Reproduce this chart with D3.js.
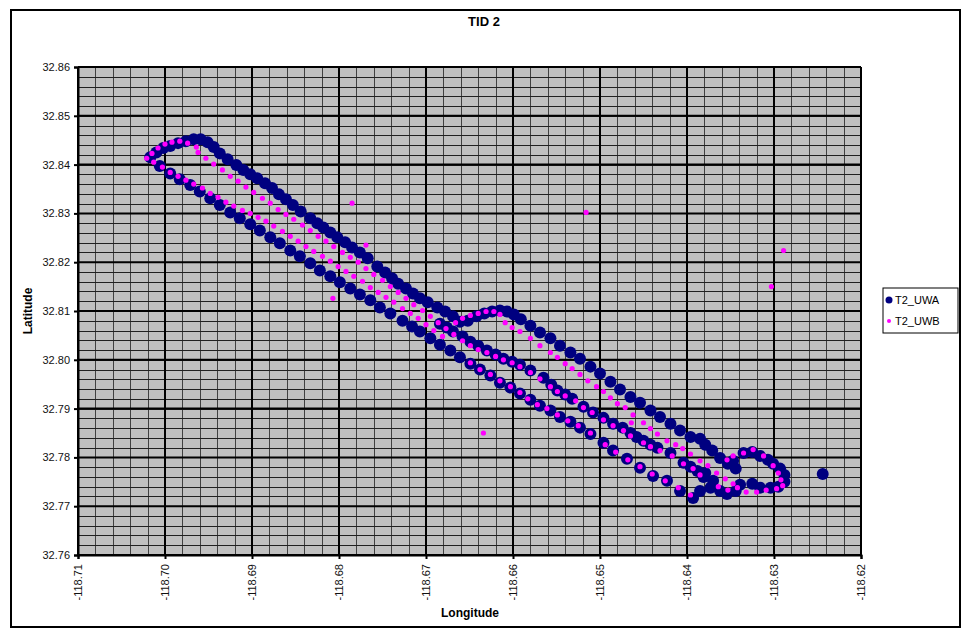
<!DOCTYPE html>
<html><head><meta charset="utf-8">
<script src="https://cdn.jsdelivr.net/npm/d3@7"></script>
<style>body{margin:0;background:#fff}svg{display:block}text{font-family:Arial,"Liberation Sans",sans-serif}</style>
</head><body><svg id="c" width="968" height="629"></svg>
<script>
const chartTitle = "TID 2";
const xTitle = "Longitude";
const yTitle = "Latitude";
const seriesNames = ["T2_UWA", "T2_UWB"];
const seriesColors = ["#000080", "#ff00ff"];
const lonTicks = [-118.71,-118.70,-118.69,-118.68,-118.67,-118.66,-118.65,-118.64,-118.63,-118.62];
const latTicks = [32.76,32.77,32.78,32.79,32.80,32.81,32.82,32.83,32.84,32.85,32.86];

// T2_UWA points [longitude, latitude]
const uwaPoints = [
[-118.7017,32.8415],[-118.7010,32.8425],[-118.7002,32.8434],[-118.6994,32.8438],[-118.6985,32.8444],[-118.6976,32.8448],[-118.6967,32.8452],[-118.6959,32.8452],[-118.6951,32.8446],[-118.6944,32.8436],
[-118.6937,32.8423],[-118.6928,32.8411],[-118.6918,32.8399],[-118.6910,32.8389],[-118.6902,32.8380],[-118.6894,32.8372],[-118.6885,32.8362],[-118.6877,32.8352],[-118.6869,32.8339],[-118.6861,32.8329],
[-118.6853,32.8317],[-118.6844,32.8304],[-118.6833,32.8290],[-118.6825,32.8280],[-118.6818,32.8271],[-118.6810,32.8261],[-118.6802,32.8251],[-118.6793,32.8241],[-118.6785,32.8230],[-118.6776,32.8220],
[-118.6767,32.8208],[-118.6756,32.8191],[-118.6747,32.8179],[-118.6739,32.8167],[-118.6732,32.8156],[-118.6723,32.8146],[-118.6715,32.8136],[-118.6707,32.8126],[-118.6698,32.8118],[-118.6687,32.8107],
[-118.6678,32.8099],[-118.6669,32.8089],[-118.6661,32.8078],
[-118.6652,32.8080],[-118.6642,32.8089],[-118.6633,32.8095],[-118.6624,32.8099],[-118.6615,32.8101],[-118.6607,32.8099],
[-118.6599,32.8093],[-118.6591,32.8083],[-118.6580,32.8070],[-118.6569,32.8056],[-118.6557,32.8044],[-118.6546,32.8029],[-118.6534,32.8015],[-118.6523,32.8002],[-118.6511,32.7986],[-118.6500,32.7972],
[-118.6488,32.7955],[-118.6477,32.7939],[-118.6465,32.7924],[-118.6454,32.7912],[-118.6442,32.7896],[-118.6431,32.7883],[-118.6419,32.7869],[-118.6408,32.7855],[-118.6396,32.7842],[-118.6385,32.7838],
[-118.6379,32.7826],[-118.6371,32.7814],[-118.6362,32.7799],[-118.6353,32.7787],[-118.6344,32.7777],
[-118.6684,32.8074],[-118.6676,32.8066],[-118.6669,32.8058],[-118.6658,32.8048],[-118.6649,32.8037],[-118.6640,32.8029],[-118.6630,32.8019],[-118.6620,32.8011],[-118.6611,32.8002],[-118.6601,32.7996],
[-118.6592,32.7990],[-118.6580,32.7978],[-118.6565,32.7963],[-118.6556,32.7949],[-118.6549,32.7937],[-118.6540,32.7929],[-118.6532,32.7920],[-118.6519,32.7904],[-118.6508,32.7892],[-118.6496,32.7881],
[-118.6485,32.7869],[-118.6474,32.7861],[-118.6465,32.7850],[-118.6458,32.7842],[-118.6450,32.7834],[-118.6442,32.7826],[-118.6434,32.7820],[-118.6419,32.7809],[-118.6404,32.7789],[-118.6396,32.7781],
[-118.6388,32.7772],[-118.6381,32.7760],
[-118.7006,32.8397],[-118.6994,32.8382],[-118.6983,32.8370],[-118.6971,32.8358],[-118.6960,32.8345],[-118.6948,32.8331],[-118.6937,32.8317],[-118.6925,32.8302],[-118.6914,32.8290],[-118.6902,32.8278],
[-118.6891,32.8265],[-118.6879,32.8251],[-118.6868,32.8239],[-118.6856,32.8224],[-118.6845,32.8212],[-118.6833,32.8198],[-118.6822,32.8183],[-118.6810,32.8171],[-118.6799,32.8159],[-118.6787,32.8146],
[-118.6776,32.8134],[-118.6764,32.8122],[-118.6753,32.8107],[-118.6741,32.8095],[-118.6727,32.8080],[-118.6716,32.8068],[-118.6707,32.8058],[-118.6695,32.8044],[-118.6684,32.8031],[-118.6672,32.8019],
[-118.6661,32.8005],[-118.6649,32.7992],[-118.6638,32.7980],[-118.6626,32.7968],[-118.6615,32.7953],[-118.6603,32.7943],[-118.6592,32.7931],[-118.6580,32.7918],[-118.6569,32.7906],[-118.6557,32.7896],
[-118.6546,32.7883],[-118.6534,32.7873],[-118.6523,32.7861],[-118.6511,32.7848],[-118.6496,32.7830],[-118.6485,32.7814],[-118.6469,32.7797],[-118.6454,32.7779],[-118.6439,32.7762],[-118.6423,32.7752],
[-118.6408,32.7731],[-118.6393,32.7717],
[-118.6385,32.7731],[-118.6373,32.7738],[-118.6362,32.7731],[-118.6354,32.7725],[-118.6344,32.7731],[-118.6339,32.7744],[-118.6347,32.7793],[-118.6335,32.7809],[-118.6325,32.7811],[-118.6316,32.7803],
[-118.6307,32.7795],[-118.6301,32.7787],[-118.6293,32.7777],[-118.6288,32.7764],[-118.6288,32.7750],[-118.6295,32.7740],[-118.6304,32.7738],[-118.6316,32.7738],[-118.6325,32.7746],[-118.6370,32.7752],
[-118.6379,32.7768],
[-118.6244,32.7766]
];

// T2_UWB points [longitude, latitude]
const uwbPoints = [
[-118.7021,32.8413],[-118.7015,32.8423],[-118.7008,32.8434],[-118.7000,32.8442],[-118.6992,32.8446],[-118.6983,32.8448],[-118.6974,32.8444],[-118.6964,32.8436],
[-118.6962,32.8425],[-118.6953,32.8413],[-118.6944,32.8401],[-118.6934,32.8389],[-118.6925,32.8376],[-118.6916,32.8366],[-118.6907,32.8354],[-118.6898,32.8343],[-118.6888,32.8331],[-118.6879,32.8321],
[-118.6870,32.8308],[-118.6861,32.8298],[-118.6852,32.8288],[-118.6842,32.8276],[-118.6833,32.8265],[-118.6824,32.8253],[-118.6815,32.8243],[-118.6806,32.8232],[-118.6796,32.8220],[-118.6787,32.8210],
[-118.6778,32.8200],[-118.6769,32.8187],[-118.6760,32.8175],[-118.6750,32.8163],[-118.6741,32.8150],[-118.6732,32.8138],[-118.6723,32.8126],[-118.6714,32.8113],[-118.6704,32.8101],[-118.6695,32.8089],
[-118.6686,32.8076],[-118.6677,32.8064],[-118.6668,32.8052],
[-118.7013,32.8405],[-118.7003,32.8395],[-118.6994,32.8384],[-118.6985,32.8376],[-118.6976,32.8368],[-118.6967,32.8360],[-118.6957,32.8352],[-118.6948,32.8341],[-118.6939,32.8333],[-118.6930,32.8323],
[-118.6921,32.8315],[-118.6911,32.8306],[-118.6902,32.8300],[-118.6893,32.8292],[-118.6884,32.8284],[-118.6875,32.8274],[-118.6865,32.8263],[-118.6856,32.8253],[-118.6847,32.8243],[-118.6838,32.8232],
[-118.6829,32.8222],[-118.6819,32.8212],[-118.6810,32.8202],[-118.6801,32.8191],[-118.6792,32.8181],[-118.6783,32.8171],[-118.6773,32.8161],[-118.6764,32.8148],[-118.6755,32.8138],[-118.6746,32.8128],
[-118.6737,32.8118],[-118.6727,32.8105],[-118.6718,32.8095],[-118.6709,32.8085],[-118.6700,32.8072],[-118.6691,32.8060],[-118.6681,32.8048],
[-118.6666,32.8076],[-118.6658,32.8085],[-118.6649,32.8091],[-118.6640,32.8095],[-118.6631,32.8099],[-118.6622,32.8099],[-118.6615,32.8093],
[-118.6609,32.8076],[-118.6601,32.8066],[-118.6592,32.8058],[-118.6580,32.8044],[-118.6569,32.8029],[-118.6557,32.8015],[-118.6549,32.8005],[-118.6540,32.7992],[-118.6532,32.7982],[-118.6523,32.7970],
[-118.6514,32.7957],[-118.6504,32.7945],[-118.6496,32.7935],[-118.6488,32.7922],[-118.6480,32.7910],[-118.6471,32.7902],[-118.6462,32.7887],[-118.6450,32.7871],[-118.6442,32.7859],[-118.6434,32.7848],
[-118.6423,32.7834],[-118.6413,32.7826],[-118.6405,32.7818],[-118.6396,32.7807],[-118.6385,32.7793],[-118.6376,32.7783],[-118.6366,32.7768],[-118.6356,32.7756],[-118.6347,32.7746],
[-118.6658,32.8039],[-118.6649,32.8029],[-118.6640,32.8021],[-118.6630,32.8015],[-118.6620,32.8007],[-118.6611,32.8000],[-118.6601,32.7994],[-118.6592,32.7986],[-118.6580,32.7974],[-118.6569,32.7961],
[-118.6557,32.7945],[-118.6549,32.7935],[-118.6540,32.7926],[-118.6528,32.7916],[-118.6519,32.7902],[-118.6509,32.7892],[-118.6496,32.7877],[-118.6485,32.7865],[-118.6473,32.7855],[-118.6465,32.7844],
[-118.6450,32.7830],[-118.6442,32.7822],[-118.6431,32.7814],[-118.6417,32.7803],[-118.6404,32.7787],[-118.6393,32.7777],[-118.6385,32.7764],
[-118.6649,32.7994],[-118.6638,32.7980],[-118.6626,32.7970],[-118.6615,32.7957],[-118.6603,32.7945],[-118.6592,32.7933],[-118.6583,32.7920],[-118.6572,32.7908],[-118.6561,32.7900],[-118.6549,32.7887],
[-118.6537,32.7875],[-118.6525,32.7865],[-118.6511,32.7850],[-118.6494,32.7826],[-118.6482,32.7811],[-118.6468,32.7795],[-118.6454,32.7781],[-118.6440,32.7766],[-118.6425,32.7752],[-118.6410,32.7738],
[-118.6396,32.7723],
[-118.6354,32.7795],[-118.6347,32.7803],[-118.6335,32.7809],[-118.6324,32.7816],[-118.6312,32.7803],[-118.6301,32.7783],[-118.6295,32.7768],[-118.6292,32.7754],[-118.6290,32.7742],[-118.6297,32.7736],
[-118.6309,32.7733],[-118.6320,32.7729],[-118.6332,32.7729],[-118.6342,32.7738],[-118.6353,32.7733],[-118.6364,32.7740],
[-118.6785,32.8321],[-118.6769,32.8235],[-118.6807,32.8126],[-118.6516,32.8302],[-118.6464,32.7871],[-118.6634,32.7850],[-118.6303,32.8150],[-118.6289,32.8224]
];

const svg = d3.select("#c");
const plot = {left: 78, right: 861, top: 67, bottom: 555};
const fmt2 = d3.formatLocale({decimal: ".", thousands: ",", grouping: [3], currency: ["", ""], minus: "-"}).format(".2f");

// outer chart frame
svg.append("rect").attr("x", 11).attr("y", 10).attr("width", 949).attr("height", 617)
  .attr("fill", "#fff").attr("stroke", "#000").attr("stroke-width", 2);

const x = d3.scaleLinear().domain([lonTicks[0], lonTicks[lonTicks.length-1]]).range([plot.left, plot.right]);
const y = d3.scaleLinear().domain([latTicks[0], latTicks[latTicks.length-1]]).range([plot.bottom, plot.top]);

// plot area
svg.append("rect").attr("x", plot.left).attr("y", plot.top)
  .attr("width", plot.right - plot.left).attr("height", plot.bottom - plot.top)
  .attr("fill", "#c0c0c0");

const g = svg.append("g");
// minor gridlines
g.selectAll(".mvx").data(x.ticks(45)).join("line")
  .attr("x1", d => Math.round(x(d)) + 0.5).attr("x2", d => Math.round(x(d)) + 0.5)
  .attr("y1", plot.top).attr("y2", plot.bottom)
  .attr("stroke", "#404040").attr("stroke-width", 1);
g.selectAll(".mhy").data(y.ticks(50)).join("line")
  .attr("y1", d => Math.round(y(d)) + 0.5).attr("y2", d => Math.round(y(d)) + 0.5)
  .attr("x1", plot.left).attr("x2", plot.right)
  .attr("stroke", "#202020").attr("stroke-width", 1);
// major gridlines
g.selectAll(".Mx").data(lonTicks).join("line")
  .attr("x1", d => x(d)).attr("x2", d => x(d))
  .attr("y1", plot.top).attr("y2", plot.bottom)
  .attr("stroke", "#000").attr("stroke-width", 2);
g.selectAll(".My").data(latTicks).join("line")
  .attr("y1", d => y(d)).attr("y2", d => y(d))
  .attr("x1", plot.left).attr("x2", plot.right)
  .attr("stroke", "#000").attr("stroke-width", 2);

// axes
const xAxis = d3.axisBottom(x).tickValues(lonTicks).tickFormat(fmt2).tickSize(4).tickPadding(3);
const xg = svg.append("g").attr("transform", `translate(0,${plot.bottom})`).call(xAxis);
xg.select(".domain").attr("stroke", "#000").attr("stroke-width", 2);
xg.selectAll(".tick line").attr("stroke", "#000").attr("stroke-width", 2);
xg.selectAll(".tick text")
  .attr("transform", "rotate(-90)").attr("x", -9).attr("y", 0).attr("dy", "0.35em")
  .attr("text-anchor", "end").attr("font-size", 11).attr("fill", "#111")
  .style("font-family", "Arial, 'Liberation Sans', sans-serif");

const yAxis = d3.axisLeft(y).tickValues(latTicks).tickFormat(fmt2).tickSize(4).tickPadding(4);
const yg = svg.append("g").attr("transform", `translate(${plot.left},0)`).call(yAxis);
yg.select(".domain").attr("stroke", "#000").attr("stroke-width", 2);
yg.selectAll(".tick line").attr("stroke", "#000").attr("stroke-width", 2);
yg.selectAll(".tick text").attr("font-size", 11).attr("fill", "#111")
  .style("font-family", "Arial, 'Liberation Sans', sans-serif");

// series
const seriesData = [uwaPoints, uwbPoints];
const radii = [6, 2.6];
seriesData.forEach((pts, i) => {
  svg.append("g").selectAll("circle").data(pts).join("circle")
    .attr("cx", d => x(d[0])).attr("cy", d => y(d[1]))
    .attr("r", radii[i]).attr("fill", seriesColors[i]);
});

// titles
svg.append("text").attr("x", 484).attr("y", 26).attr("text-anchor", "middle")
  .attr("font-size", 13).attr("font-weight", "bold").text(chartTitle);
svg.append("text").attr("x", 470).attr("y", 617).attr("text-anchor", "middle")
  .attr("font-size", 12).attr("font-weight", "bold").text(xTitle);
svg.append("text").attr("transform", "translate(32,311) rotate(-90)").attr("text-anchor", "middle")
  .attr("font-size", 12).attr("font-weight", "bold").text(yTitle);

// legend
const lg = svg.append("g").attr("transform", "translate(883,288)");
lg.append("rect").attr("width", 75).attr("height", 45).attr("fill", "#fff").attr("stroke", "#000").attr("stroke-width", 1);
seriesNames.forEach((n, i) => {
  const ry = 12 + i * 21;
  lg.append("circle").attr("cx", 6).attr("cy", ry).attr("r", i === 0 ? 3.5 : 2).attr("fill", seriesColors[i]);
  lg.append("text").attr("x", 12).attr("y", ry).attr("dy", "0.35em").attr("font-size", 11).text(n);
});
</script></body></html>
